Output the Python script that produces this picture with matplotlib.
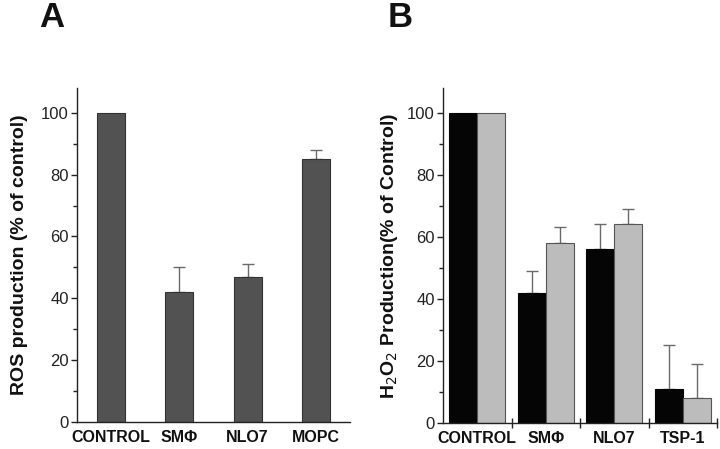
import matplotlib
matplotlib.use("Agg")
import matplotlib.pyplot as plt
import numpy as np

plt.rcParams['font.family'] = ['Liberation Sans', 'DejaVu Sans']

# Panel A data
catsA = ["CONTROL", "SMΦ", "NLO7", "MOPC"]
valsA = [100, 42, 47, 85]
errA = [0, 8, 4, 3]

# Panel B data
catsB = ["CONTROL", "SMΦ", "NLO7", "TSP-1"]
valsB1 = [100, 42, 56, 11]
errB1 = [0, 7, 8, 14]
valsB2 = [100, 58, 64, 8]
errB2 = [0, 5, 5, 11]

yticks = [0, 20, 40, 60, 80, 100]

fig = plt.figure(figsize=(7.2, 4.49), dpi=100)
W, H = 720, 449

def ax_rect(x0, x1, ytop, ybot):
    return [x0 / W, 1 - ybot / H, (x1 - x0) / W, (ybot - ytop) / H]

axA = fig.add_axes(ax_rect(77, 350, 88, 422))
axB = fig.add_axes(ax_rect(443, 717, 88, 422.7))

def style(ax):
    ax.set_ylim(0, 108)
    ax.set_xlim(-0.5, 3.5)
    for s in ['top', 'right']:
        ax.spines[s].set_visible(False)
    for s in ['left', 'bottom']:
        ax.spines[s].set_linewidth(1.0)
        ax.spines[s].set_color('#222222')
    ax.set_yticks(yticks)
    ax.set_yticks([10, 30, 50, 70, 90], minor=True)
    ax.tick_params(axis='y', which='major', direction='out', length=4, width=1,
                   labelsize=12, pad=2, colors='#222222')
    ax.tick_params(axis='y', which='minor', direction='out', length=3, width=1,
                   colors='#222222')

eb_kw = dict(ecolor='#6a6a6a', elinewidth=1.0, capsize=4.5, capthick=1.0)

def errbars(ax, x, vals, errs):
    x = np.asarray(x, dtype=float)
    vals = np.asarray(vals, dtype=float)
    errs = np.asarray(errs, dtype=float)
    m = errs > 0
    ax.errorbar(x[m], vals[m], yerr=[np.zeros(m.sum()), errs[m]], fmt='none',
                zorder=1, **eb_kw)

xA = np.arange(len(catsA))
wA = 0.41
axA.bar(xA, valsA, width=wA, color='#525252', edgecolor='#333333', linewidth=0.8, zorder=2)
errbars(axA, xA, valsA, errA)
style(axA)
axA.set_xticks(xA)
axA.set_xticklabels(catsA, fontsize=11.5, fontweight='bold', color='#111111')
axA.tick_params(axis='x', length=0, pad=6)
axA.set_ylabel("ROS production (% of control)", fontsize=14, fontweight='bold',
               color='#111111', labelpad=9)

xB = np.arange(len(catsB))
wB = 0.41
axB.bar(xB - wB / 2, valsB1, width=wB, color='#050505', edgecolor='#050505', linewidth=0.8, zorder=2)
axB.bar(xB + wB / 2, valsB2, width=wB, color='#bcbcbc', edgecolor='#555555', linewidth=0.8, zorder=2)
errbars(axB, xB - wB / 2, valsB1, errB1)
errbars(axB, xB + wB / 2, valsB2, errB2)
style(axB)
axB.set_xticks(xB)
axB.set_xticklabels(catsB, fontsize=11.5, fontweight='bold', color='#111111')
axB.tick_params(axis='x', which='major', length=0, pad=6)
axB.set_xticks([0.5, 1.5, 2.5, 3.5], minor=True)
axB.tick_params(axis='x', which='minor', direction='inout', length=7, width=1,
                colors='#222222')
axB.set_ylabel("H$_{\\rm 2}$O$_{\\rm 2}$ Production(% of Control)", fontsize=14,
               fontweight='bold', color='#111111', labelpad=5)

fig.text(39 / W, 1 - 27 / H, "A", fontsize=25, fontweight='bold', color='#111111')
fig.text(388 / W, 1 - 27 / H, "B", fontsize=25, fontweight='bold', color='#111111')

fig.savefig("out.png", dpi=100)
